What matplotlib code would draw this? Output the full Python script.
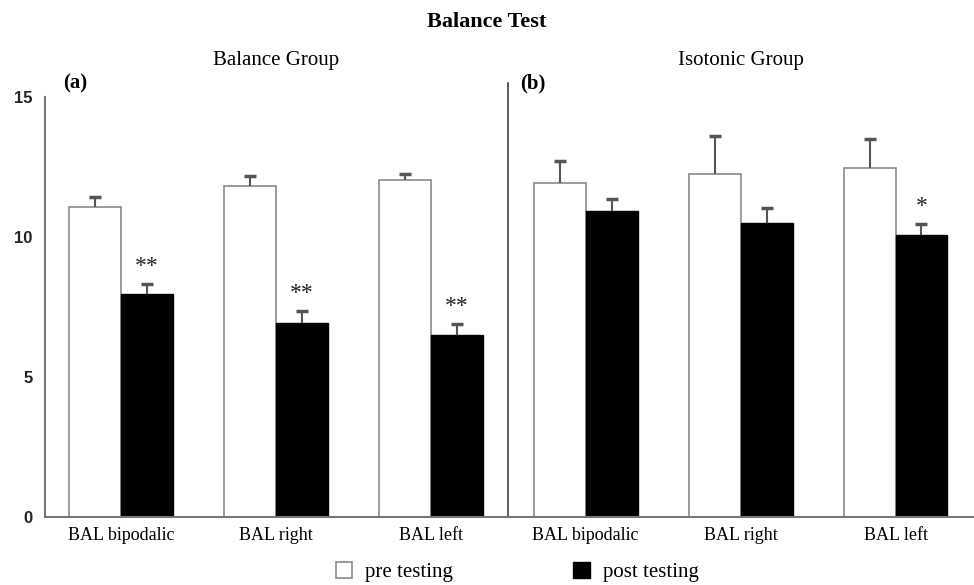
import matplotlib
matplotlib.use("Agg")
import matplotlib.pyplot as plt
import numpy as np

# values (balance test scores)
tests = ["BAL bipodalic", "BAL right", "BAL left"]
groups = ["Balance Group", "Isotonic Group"]
pre_balance = [11.07, 11.83, 12.02]
pre_balance_err = [0.36, 0.36, 0.24]
post_balance = [7.96, 6.94, 6.50]
post_balance_err = [0.37, 0.43, 0.39]
pre_isotonic = [11.94, 12.25, 12.46]
pre_isotonic_err = [0.79, 1.37, 1.03]
post_isotonic = [10.93, 10.49, 10.07]
post_isotonic_err = [0.43, 0.55, 0.38]
stars_balance = ["**", "**", "**"]
stars_isotonic = ["", "", "*"]

pre = pre_balance + pre_isotonic
pre_err = pre_balance_err + pre_isotonic_err
post = post_balance + post_isotonic
post_err = post_balance_err + post_isotonic_err
stars = stars_balance + stars_isotonic
labels = tests + tests

serif = "Liberation Serif"
sans = "Liberation Sans"

fig = plt.figure(figsize=(9.74, 5.85), dpi=100)
ax = fig.add_axes([45 / 974, 1 - 517 / 585, 928 / 974, 420 / 585])

x = np.arange(len(pre))
w = 0.335
pre_bars = ax.bar(x - w / 2, pre, w, color="white", edgecolor="#8a8a8a", linewidth=1.2, label="pre testing")
post_bars = ax.bar(x + w / 2, post, w, color="black", edgecolor="black", linewidth=1.0, label="post testing")

zero = np.zeros(len(pre))
for xs, vals, errs in [(x - w / 2, pre, pre_err), (x + w / 2, post, post_err)]:
    _, caps, _ = ax.errorbar(xs, vals, yerr=[zero, errs], fmt="none", ecolor="#555555",
                             elinewidth=1.5, capsize=4.5, capthick=2.5)
    caps[0].set_visible(False)  # only the upper half of the bar is shown

for xi, top, s in zip(x + w / 2, np.array(post) + np.array(post_err), stars):
    if s:
        ax.text(xi, top + 0.25, s, ha="center", va="bottom", fontsize=17,
                family=serif, color="#222222")

ax.set_xlim(-0.49, 5.5)
ax.set_ylim(0, 15)
ax.set_yticks([0, 5, 10, 15])
ax.set_xticks(x)
ax.set_xticklabels(labels, family=serif, fontsize=13)
for t in ax.get_yticklabels():
    t.set_family(sans)
    t.set_fontsize(12)
    t.set_fontweight("bold")
    t.set_color("#222222")
ax.tick_params(length=0)
ax.tick_params(axis="y", pad=9)
ax.tick_params(axis="x", pad=7)

for side in ["top", "right"]:
    ax.spines[side].set_visible(False)
for side in ["left", "bottom"]:
    ax.spines[side].set_color("#777777")
    ax.spines[side].set_linewidth(1.5)

# divider between the two groups
ax.plot([2.5, 2.5], [0, 15.5], color="#444444", linewidth=1.2, clip_on=False)

fig.text(0.5, 1 - 22 / 585, "Balance Test", ha="center", va="center",
         family=serif, fontsize=16, fontweight="bold")
ax.text(1, 16.3, groups[0], ha="center", va="center", family=serif, fontsize=15)
ax.text(4, 16.3, groups[1], ha="center", va="center", family=serif, fontsize=15)
ax.text(-0.37, 15.5, "(a)", ha="left", va="center", family=serif, fontsize=15, fontweight="bold")
ax.text(2.58, 15.5, "(b)", ha="left", va="center", family=serif, fontsize=15, fontweight="bold")

fig.legend(handles=[pre_bars, post_bars], loc="center", bbox_to_anchor=(517 / 974, 1 - 572 / 585),
           ncol=2, frameon=False, prop={"family": serif, "size": 15},
           handlelength=0.8, handleheight=0.8, handletextpad=0.6, columnspacing=5.8)

fig.savefig("out.png", dpi=100)
